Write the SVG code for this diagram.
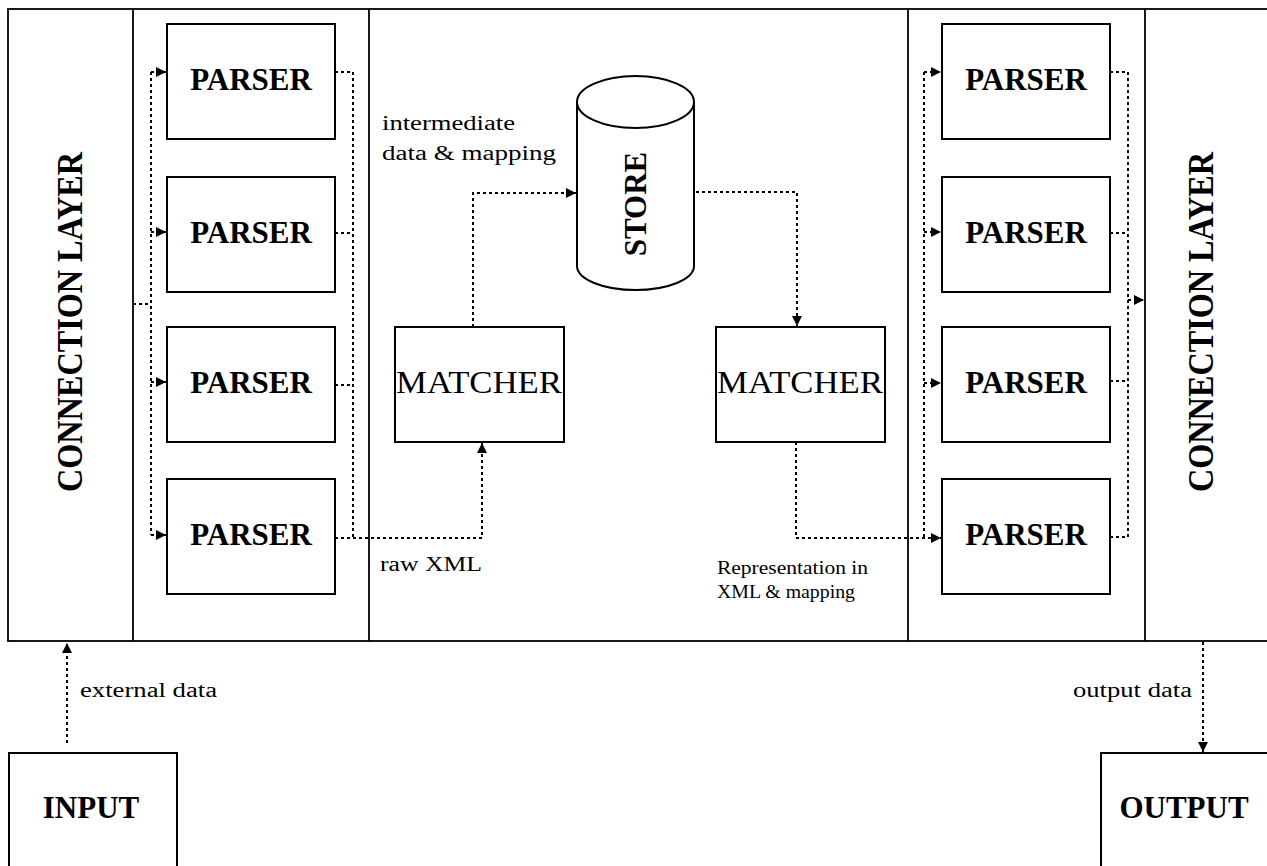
<svg xmlns="http://www.w3.org/2000/svg" width="1267" height="866" viewBox="0 0 1267 866">
<defs>
<style>
.frame{fill:none;stroke:#000;stroke-width:1.8}
.box{fill:#fff;stroke:#000;stroke-width:2}
.conn{fill:none;stroke:#000;stroke-width:2;stroke-dasharray:3 3}
.big{font-family:"Liberation Serif","Times New Roman",serif;font-size:31px;font-weight:bold;fill:#000}
.mat{font-family:"Liberation Serif","Times New Roman",serif;font-size:32px;fill:#000}
.layer{font-family:"Liberation Serif","Times New Roman",serif;font-size:35px;font-weight:bold;fill:#000}
.small{font-family:"Liberation Serif","Times New Roman",serif;font-size:20px;fill:#000}
.tiny{font-family:"Liberation Serif","Times New Roman",serif;font-size:18px;fill:#000}
</style>
<marker id="ah" viewBox="0 0 10 10" refX="10" refY="5" markerWidth="10" markerHeight="10" markerUnits="userSpaceOnUse" orient="auto">
<path d="M0,0 L10,5 L0,10 z" fill="#000"/>
</marker>
</defs>
<rect width="1267" height="866" fill="#fff"/>
<g id="frame">
<rect class="frame" x="8" y="9" width="1280" height="632"/>
<line class="frame" x1="133" y1="9" x2="133" y2="641"/>
<line class="frame" x1="369" y1="9" x2="369" y2="641"/>
<line class="frame" x1="908" y1="9" x2="908" y2="641"/>
<line class="frame" x1="1145" y1="9" x2="1145" y2="641"/>
</g>
<g id="connection-layer-left">
<text class="layer" transform="translate(82,322) rotate(-90)" text-anchor="middle" textLength="340" lengthAdjust="spacingAndGlyphs">CONNECTION LAYER</text>
</g>
<g id="connection-layer-right">
<text class="layer" transform="translate(1213,322) rotate(-90)" text-anchor="middle" textLength="340" lengthAdjust="spacingAndGlyphs">CONNECTION LAYER</text>
</g>
<g id="parser-l1"><rect class="box" x="167" y="24" width="168" height="115"/><text class="big" x="251" y="90" text-anchor="middle">PARSER</text></g>
<g id="parser-l2"><rect class="box" x="167" y="177" width="168" height="115"/><text class="big" x="251" y="243" text-anchor="middle">PARSER</text></g>
<g id="parser-l3"><rect class="box" x="167" y="327" width="168" height="115"/><text class="big" x="251" y="393" text-anchor="middle">PARSER</text></g>
<g id="parser-l4"><rect class="box" x="167" y="479" width="168" height="115"/><text class="big" x="251" y="545" text-anchor="middle">PARSER</text></g>
<g id="parser-r1"><rect class="box" x="942" y="24" width="168" height="115"/><text class="big" x="1026" y="90" text-anchor="middle">PARSER</text></g>
<g id="parser-r2"><rect class="box" x="942" y="177" width="168" height="115"/><text class="big" x="1026" y="243" text-anchor="middle">PARSER</text></g>
<g id="parser-r3"><rect class="box" x="942" y="327" width="168" height="115"/><text class="big" x="1026" y="393" text-anchor="middle">PARSER</text></g>
<g id="parser-r4"><rect class="box" x="942" y="479" width="168" height="115"/><text class="big" x="1026" y="545" text-anchor="middle">PARSER</text></g>
<g id="matcher-l"><rect class="box" x="395" y="327" width="169" height="115"/><text class="mat" x="396" y="393" textLength="166" lengthAdjust="spacingAndGlyphs">MATCHER</text></g>
<g id="matcher-r"><rect class="box" x="716" y="327" width="169" height="115"/><text class="mat" x="717" y="393" textLength="166" lengthAdjust="spacingAndGlyphs">MATCHER</text></g>
<g id="store">
<path class="box" d="M577,102 V266 A58.5,24 0 0 0 694,266 V102"/>
<ellipse class="box" cx="635.5" cy="102" rx="58.5" ry="26"/>
<text class="big" transform="translate(646,204) rotate(-90)" text-anchor="middle">STORE</text>
</g>
<g id="input"><rect class="box" x="9" y="753" width="168" height="130"/><text class="big" x="91" y="818" text-anchor="middle">INPUT</text></g>
<g id="output"><rect class="box" x="1101" y="753" width="200" height="130"/><text class="big" x="1184" y="818" text-anchor="middle">OUTPUT</text></g>
<g id="connectors">
<path class="conn" d="M67,743 V643" marker-end="url(#ah)"/>
<path class="conn" d="M133,304 H151"/>
<path class="conn" d="M151,72 V535"/>
<path class="conn" d="M151,72 H166" marker-end="url(#ah)"/>
<path class="conn" d="M151,232 H166" marker-end="url(#ah)"/>
<path class="conn" d="M151,382 H166" marker-end="url(#ah)"/>
<path class="conn" d="M151,535 H166" marker-end="url(#ah)"/>
<path class="conn" d="M335,72 H353 V538"/>
<path class="conn" d="M335,233 H353"/>
<path class="conn" d="M335,385 H353"/>
<path class="conn" d="M335,538 H482 V443" marker-end="url(#ah)"/>
<path class="conn" d="M473,327 V193 H576" marker-end="url(#ah)"/>
<path class="conn" d="M696,192 H797 V326" marker-end="url(#ah)"/>
<path class="conn" d="M796,442 V538 H941" marker-end="url(#ah)"/>
<path class="conn" d="M924,72 V538"/>
<path class="conn" d="M924,72 H941" marker-end="url(#ah)"/>
<path class="conn" d="M924,232 H941" marker-end="url(#ah)"/>
<path class="conn" d="M924,383 H941" marker-end="url(#ah)"/>
<path class="conn" d="M1110,72 H1128 V537 H1110"/>
<path class="conn" d="M1110,233 H1128"/>
<path class="conn" d="M1110,381 H1128"/>
<path class="conn" d="M1128,300 H1144" marker-end="url(#ah)"/>
<path class="conn" d="M1203,642 V752" marker-end="url(#ah)"/>
</g>
<g id="labels">
<text class="small" x="382" y="130" textLength="133" lengthAdjust="spacingAndGlyphs">intermediate</text>
<text class="small" x="382" y="160" textLength="174" lengthAdjust="spacingAndGlyphs">data &amp; mapping</text>
<text class="small" x="380" y="571" textLength="102" lengthAdjust="spacingAndGlyphs">raw XML</text>
<text class="tiny" x="717" y="574" textLength="151" lengthAdjust="spacingAndGlyphs">Representation in</text>
<text class="tiny" x="717" y="598" textLength="138" lengthAdjust="spacingAndGlyphs">XML &amp; mapping</text>
<text class="small" x="80" y="697" textLength="137" lengthAdjust="spacingAndGlyphs">external data</text>
<text class="small" x="1073" y="697" textLength="119" lengthAdjust="spacingAndGlyphs">output data</text>
</g>
</svg>
